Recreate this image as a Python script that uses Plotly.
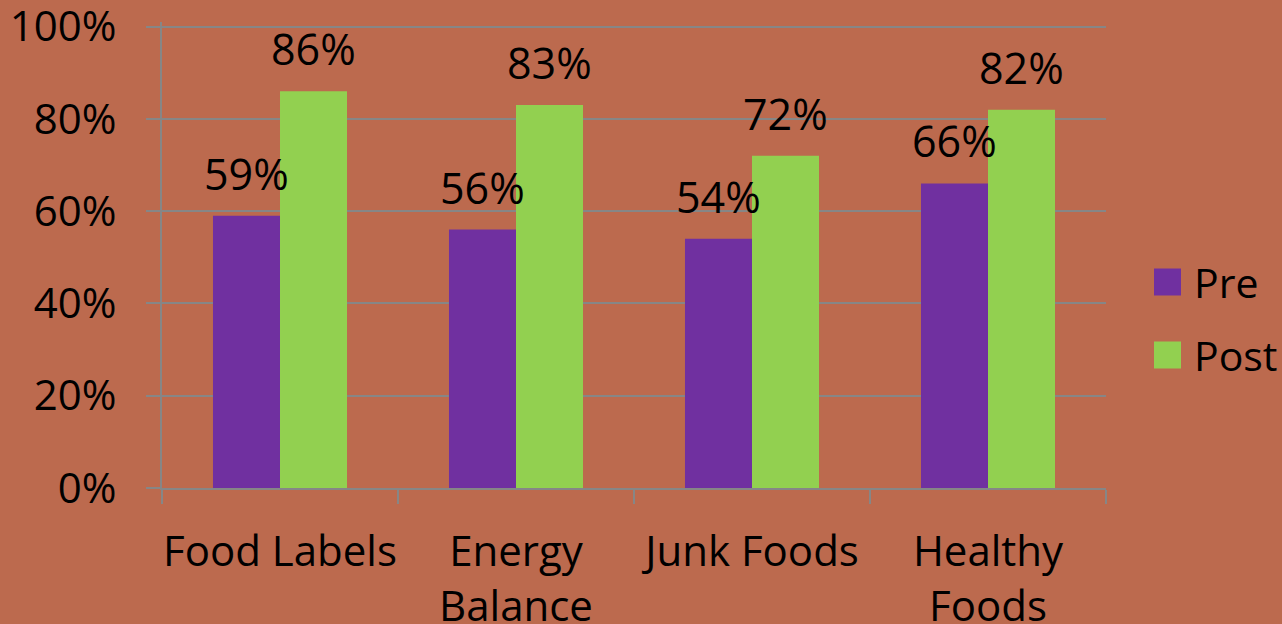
import plotly.graph_objects as go

categories = ["Food Labels", "Energy<br>Balance", "Junk Foods", "Healthy<br>Foods"]
series_names = ["Pre", "Post"]
pre_values = [59, 56, 54, 66]
post_values = [86, 83, 72, 82]
y_ticks = [0, 20, 40, 60, 80, 100]
y_tick_labels = ["0%", "20%", "40%", "60%", "80%", "100%"]

colors = ["#7030A0", "#92D050"]
FONT = "Open Sans"
grid = "#868686"

fig = go.Figure()
for name, vals, col in zip(series_names, [pre_values, post_values], colors):
    fig.add_trace(go.Bar(x=categories, y=vals, name=name, marker_color=col,
                         marker_line_width=0, showlegend=False))

# data labels
bar_px = 67
for k, vals in enumerate([pre_values, post_values]):
    shift = (-0.5 if k == 0 else 0.5) * bar_px
    for c, v in zip(categories, vals):
        fig.add_annotation(x=c, y=v, text=f"{v}%", showarrow=False,
                           xshift=shift, yanchor="bottom", yshift=11,
                           font=dict(family=FONT, size=43, color="black"))

# manual legend
TOP, BOT = 22, 488
PH = BOT - TOP
leg_y = [282, 355]
for name, col, yy in zip(series_names, colors, leg_y):
    fig.add_shape(type="rect", xref="paper", yref="paper",
                  x0=(1154 - 162) / 944, x1=(1181 - 162) / 944,
                  y0=(BOT - (yy + 13.5)) / PH, y1=(BOT - (yy - 13.5)) / PH,
                  fillcolor=col, line_width=0)
    fig.add_annotation(xref="paper", yref="paper", x=(1192 - 162) / 944,
                       y=(BOT - yy) / PH, text=name, showarrow=False,
                       xanchor="left", yanchor="middle",
                       font=dict(family=FONT, size=41, color="black"))

fig.update_layout(
    width=1282, height=624,
    margin=dict(l=162, r=176, t=TOP, b=624 - BOT, autoexpand=False),
    paper_bgcolor="#BC6A4E", plot_bgcolor="rgba(0,0,0,0)",
    barmode="group", bargap=0.432, bargroupgap=0,
    font=dict(family=FONT, size=40, color="black"),
)
fig.update_xaxes(showline=True, linecolor=grid, linewidth=2,
                 ticks="outside", tickson="boundaries", ticklen=14,
                 tickcolor=grid, tickwidth=2, showgrid=False,
                 tickangle=0, automargin=False,
                 tickfont=dict(family=FONT, size=42), ticklabelstandoff=26)
fig.update_yaxes(range=[0, 101], tickvals=y_ticks, ticktext=y_tick_labels,
                 showline=True, linecolor=grid, linewidth=2,
                 ticks="outside", ticklen=14, tickcolor=grid, tickwidth=2,
                 showgrid=True, gridcolor=grid, gridwidth=2, zeroline=False,
                 automargin=False, ticklabeloverflow="allow",
                 tickfont=dict(family=FONT, size=42), ticklabelstandoff=21)

fig.write_html("out.html")
